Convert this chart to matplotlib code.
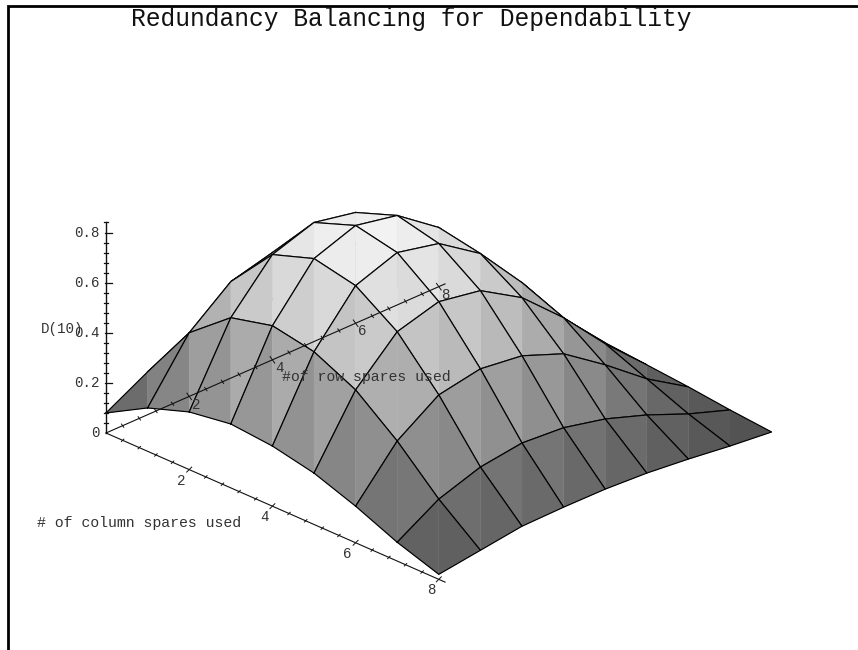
import matplotlib
matplotlib.use("Agg")
import matplotlib.pyplot as plt
from matplotlib.lines import Line2D
from mpl_toolkits.mplot3d import proj3d
from mpl_toolkits.mplot3d.art3d import Poly3DCollection
import numpy as np

# dependability, one list per column-spare count
spares = [0, 1, 2, 3, 4, 5, 6, 7, 8]
col_0 = [0.080, 0.171, 0.230, 0.255, 0.240, 0.205, 0.146, 0.075, 0.020]
col_1 = [0.173, 0.400, 0.531, 0.574, 0.543, 0.464, 0.333, 0.174, 0.043]
col_2 = [0.230, 0.533, 0.712, 0.767, 0.734, 0.623, 0.444, 0.229, 0.066]
col_3 = [0.255, 0.574, 0.769, 0.828, 0.795, 0.674, 0.475, 0.250, 0.069]
col_4 = [0.240, 0.543, 0.734, 0.793, 0.756, 0.643, 0.454, 0.239, 0.068]
col_5 = [0.205, 0.464, 0.623, 0.670, 0.641, 0.540, 0.387, 0.210, 0.053]
col_6 = [0.146, 0.333, 0.444, 0.475, 0.454, 0.389, 0.272, 0.143, 0.038]
col_7 = [0.075, 0.174, 0.229, 0.252, 0.240, 0.202, 0.145, 0.076, 0.019]
col_8 = [0.020, 0.043, 0.066, 0.069, 0.068, 0.059, 0.042, 0.021, 0.004]

ground_ticks = [0.4 * i for i in range(1, 21)]
ground_labels = [2, 4, 6, 8]
height_ticks = [0.04 * i for i in range(1, 22)]
height_labels = [0.2, 0.4, 0.6, 0.8]

W, H = 858, 650
FONT = "Liberation Mono"
INK = "#333333"


def gray_for(z):
    return plt.cm.gray((80 + 200 * z) / 255)


fig = plt.figure(figsize=(W / 100, H / 100), dpi=100)
ax = fig.add_axes([0, 0, 1, 1], projection="3d")
ax.computed_zorder = False
ax.set_proj_type("ortho")
ax.set_xlim(0, 8); ax.set_ylim(0, 8); ax.set_zlim(0, 0.85)
elev = np.degrees(np.arcsin(18.25 / 41.5))
ax.view_init(elev=elev, azim=-45)
hz = (250 / 41.5) * np.cos(np.radians(45)) * 0.85 / np.cos(np.radians(elev))
ax.set_box_aspect((8, 8, hz))
ax.set_axis_off()
ax.patch.set_alpha(0)

# ── Surface: far cells first, each cell split along its vertical diagonal ──
Z = [col_0, col_1, col_2, col_3, col_4, col_5, col_6, col_7, col_8]
for c in spares[:-1]:
    for r in spares[:-1]:
        p00 = (c, r, Z[c][r])
        p10 = (c + 1, r, Z[c + 1][r])
        p01 = (c, r + 1, Z[c][r + 1])
        p11 = (c + 1, r + 1, Z[c + 1][r + 1])
        tris = [[p00, p10, p01], [p11, p10, p01]]
        cols = [gray_for(np.mean([p[2] for p in t])) for t in tris]
        rank = 10 + 2 * (c - r)
        poly = Poly3DCollection(tris, facecolors=cols, edgecolors=cols, linewidths=0.3)
        poly.set_zorder(rank)
        ax.add_collection3d(poly, autolim=False)
        loop = [p00, p10, p11, p01, p00]
        ax.plot(*zip(*loop), color="black", lw=0.85, zorder=rank + 1,
                solid_joinstyle="round")

# ── Axes lines and ticks, on top of the surface ───────────────────────────
AX = dict(color="#111111", zorder=50)
ax.plot([0, 8.15], [0, 0], [0, 0], lw=0.8, **AX)
ax.plot([0, 0], [0, 8.15], [0, 0], lw=0.8, **AX)
ax.plot([0, 0], [0, 0], [0, 0.84], lw=1.0, **AX)

for t in ground_ticks:
    f = 1.0 if abs(t / 2 - round(t / 2)) < 1e-6 else 0.5
    ax.plot([t, t], [-0.06 * f, 0.06 * f], [-0.0055 * f, 0.0055 * f], lw=0.7, **AX)
    ax.plot([-0.056 * f, 0.056 * f], [t, t], [0.009 * f, -0.009 * f], lw=0.7, **AX)

for z in height_ticks:
    major = abs(z / 0.2 - round(z / 0.2)) < 1e-6
    lo, hi = (-0.015, 0.07) if major else (-0.03, 0.03)
    ax.plot([lo, hi], [lo, hi], [z, z], lw=0.9, **AX)

# ── Tick labels ───────────────────────────────────────────────────────────
TXT = dict(family=FONT, fontsize=10.2, color=INK, zorder=60)
for t in ground_labels:
    ax.text(t, -0.19, -0.03, str(t), ha="center", va="center", **TXT)
    ax.text(0.17, t, -0.02, str(t), ha="center", va="center", **TXT)
for z in height_labels:
    ax.text(-0.08, -0.08, z, f"{z:.1f}", ha="right", va="center", **TXT)
ax.text(-0.08, -0.08, 0, "0", ha="right", va="center", **TXT)

# ── Place the scene so that one unit and the origin land where they should ─
fig.canvas.draw()


def to_px(x, y, z):
    X, Y, _ = proj3d.proj_transform(x, y, z, ax.get_proj())
    return ax.transData.transform((X, Y))


size = ax.bbox.width
x0, y0 = to_px(0, 0, 0)
x8, _ = to_px(8, 0, 0)
size2 = size * (41.6 * 8) / (x8 - x0)
fx, fy = (x0 - ax.bbox.x0) / size, (y0 - ax.bbox.y0) / size
left = 106 - fx * size2
bottom = (H - 433) - fy * size2
ax.set_position([left / W, bottom / H, size2 / W, size2 / H])

# ── Labels and the page frame ─────────────────────────────────────────────
fig.text(131 / W, 1 - 19 / H, "Redundancy Balancing for Dependability", family=FONT,
         fontsize=17.75, color="#111111", ha="left", va="center")
fig.text(41 / W, 1 - 329 / H, "D(10)", family=FONT, fontsize=10.2, color=INK,
         ha="left", va="center", zorder=20)
fig.text(282 / W, 1 - 377 / H, "#of row spares used", family=FONT, fontsize=10.7,
         color=INK, ha="left", va="center", zorder=20)
fig.text(37 / W, 1 - 523 / H, "# of column spares used", family=FONT, fontsize=10.7,
         color=INK, ha="left", va="center", zorder=20)

fig.add_artist(Line2D([7.5 / W, 7.5 / W, 1], [0, 1 - 6 / H, 1 - 6 / H], color="black",
                      lw=2.0, solid_joinstyle="miter"))

fig.savefig("out.png", dpi=100, facecolor="white")
